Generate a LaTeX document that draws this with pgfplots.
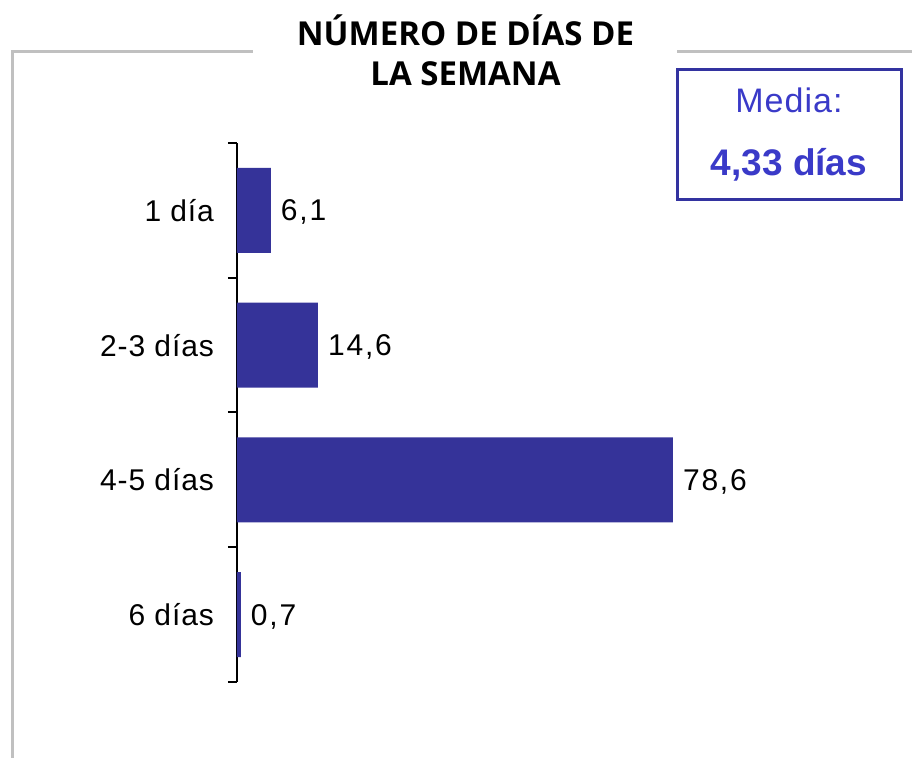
\documentclass[border=0pt]{standalone}
\usepackage{fontspec}
\usepackage{pgfplots}
\pgfplotsset{compat=1.18}
\setmainfont{Liberation Sans}
\newfontfamily\titlefont{Open Sans}
\newfontfamily\widefont{Liberation Sans}[LetterSpace=6]
\newfontfamily\labfont{Liberation Sans}[LetterSpace=3]
\definecolor{barblue}{RGB}{53,51,153}
\definecolor{boxblue}{RGB}{51,51,160}
\definecolor{textblue}{RGB}{58,58,200}
\definecolor{framegray}{RGB}{192,192,192}
\begin{document}
\begin{tikzpicture}
\useasboundingbox (0,0) rectangle (456pt,379pt);
\draw[framegray, line width=1.5pt] (6pt,0) -- (6pt,353pt) -- (126.5pt,353pt);
\draw[framegray, line width=1.5pt] (338.5pt,353pt) -- (456pt,353pt);
\node[align=center, font=\titlefont\bfseries\fontsize{16.5}{20}\selectfont] at (232.75pt,354pt) {NÚMERO DE DÍAS DE\\LA SEMANA};
\draw[boxblue, line width=1.5pt] (338.5pt,279pt) rectangle (450.5pt,344pt);
\node[textblue, font=\labfont\fontsize{17}{18}\selectfont] at (394.5pt,329pt) {Media:};
\node[textblue, font=\bfseries\fontsize{18.5}{20}\selectfont] at (394.5pt,296.5pt) {4,33 días};
\begin{axis}[
  at={(118.5pt,38pt)}, anchor=south west,
  scale only axis, width=332.8pt, height=269.5pt,
  xmin=0, xmax=120, ymin=-0.5, ymax=3.5, y dir=reverse,
  xbar, bar width=42.5pt,
  axis x line=none, axis y line*=left,
  axis line style={black, line width=1pt},
  ytick={0,1,2,3},
  yticklabels={1 día, 2-3 días, 4-5 días, 6 días},
  major tick length=0pt,
  minor ytick={-0.5,0.5,1.5,2.5,3.5},
  minor tick length=4.5pt,
  tick align=outside,
  tick style={black, line width=1pt},
  yticklabel style={font=\labfont\fontsize{15}{17}\selectfont, xshift=-8pt},
  point meta=x,
  nodes near coords={\pgfmathprintnumber[use comma,fixed,fixed zerofill,precision=1,assume math mode=true]{\pgfplotspointmeta}},
  nodes near coords style={font=\widefont\fontsize{15}{17}\selectfont, black, xshift=1.5pt, yshift=-1pt},
  clip=false,
]
\addplot[fill=barblue, draw=none] coordinates {(6.1,0) (14.6,1) (78.6,2) (0.7,3)};
\end{axis}
\end{tikzpicture}
\end{document}
